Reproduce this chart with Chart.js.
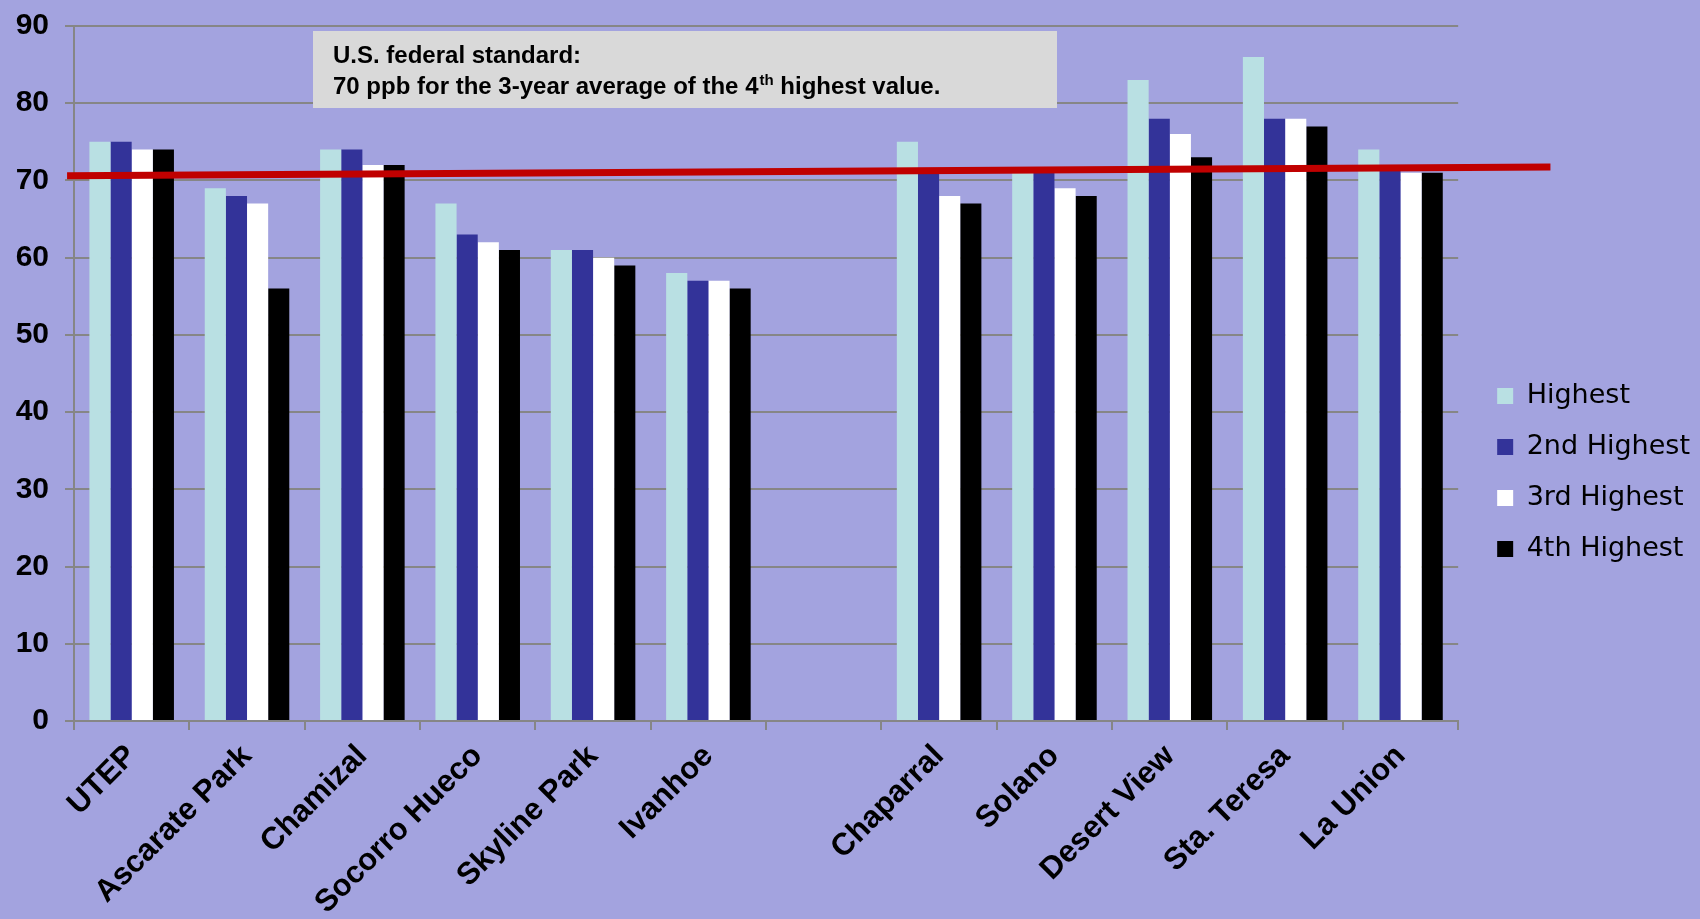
<!DOCTYPE html>
<html>
<head>
<meta charset="utf-8">
<script src="https://cdn.jsdelivr.net/npm/chart.js@4/dist/chart.umd.min.js"></script>
<style>
  html, body { margin: 0; padding: 0; background: #A3A3DF; }
  canvas { display: block; }
</style>
</head>
<body>
<canvas id="ozone" width="1700" height="919"></canvas>
<script>
// monitoring sites (blank slot separates the two groups)
var sites = ['UTEP', 'Ascarate Park', 'Chamizal', 'Socorro Hueco', 'Skyline Park', 'Ivanhoe', '',
             'Chaparral', 'Solano', 'Desert View', 'Sta. Teresa', 'La Union']
var highest  = [75, 69, 74, 67, 61, 58, null, 75, 71, 83, 86, 74]
var second   = [75, 68, 74, 63, 61, 57, null, 71, 71, 78, 78, 72]
var third    = [74, 67, 72, 62, 60, 57, null, 68, 69, 76, 78, 71]
var fourth   = [74, 56, 72, 61, 59, 56, null, 67, 68, 73, 77, 71]
var yTicks   = [0, 10, 20, 30, 40, 50, 60, 70, 80, 90]

// red standard line: ppb at its two ends, and where it starts/stops along the site axis
var standardLevel = [70.6, 71.75]
var standardSpan  = [-0.56, 12.3]

var noteLine1 = 'U.S. federal standard:'
var noteLine2a = '70 ppb for the 3-year average of the 4'
var noteSup = 'th'
var noteLine2b = ' highest value.'

var grey = '#868686'
var font = 'Liberation Sans, Arial, sans-serif'

var standardPlugin = {
    id: 'standard',
    afterDatasetsDraw: function (chart) {
        var ctx = chart.ctx
        var x = chart.scales.x, y = chart.scales.y

        // grey note box
        ctx.save()
        ctx.fillStyle = '#D9D9D9'
        ctx.fillRect(313, 31, 744, 77)
        ctx.fillStyle = '#000'
        ctx.textBaseline = 'alphabetic'
        ctx.font = 'bold 24px ' + font
        ctx.fillText(noteLine1, 333, 63)
        ctx.fillText(noteLine2a, 333, 94)
        var w = ctx.measureText(noteLine2a).width
        ctx.font = 'bold 15px ' + font
        ctx.fillText(noteSup, 333 + w + 1, 85)
        var w2 = ctx.measureText(noteSup).width
        ctx.font = 'bold 24px ' + font
        ctx.fillText(noteLine2b, 333 + w + w2 + 1, 94)

        // 70 ppb line
        ctx.strokeStyle = '#C00000'
        ctx.lineWidth = 7
        ctx.beginPath()
        ctx.moveTo(x.getPixelForValue(standardSpan[0]), y.getPixelForValue(standardLevel[0]))
        ctx.lineTo(x.getPixelForValue(standardSpan[1]), y.getPixelForValue(standardLevel[1]))
        ctx.stroke()
        ctx.restore()
    }
}

var myChart = new Chart(document.getElementById('ozone'), {
    type: 'bar',
    data: {
        labels: sites,
        datasets: [
            { label: 'Highest', data: highest, backgroundColor: '#B9E0E3' },
            { label: '2nd Highest', data: second, backgroundColor: '#333399' },
            { label: '3rd Highest', data: third, backgroundColor: '#FFFFFF' },
            { label: '4th Highest', data: fourth, backgroundColor: '#000000' }
        ]
    },
    options: {
        responsive: false,
        animation: false,
        layout: { padding: 0 },
        datasets: { bar: { categoryPercentage: 0.733, barPercentage: 1.0, borderWidth: 0 } },
        plugins: {
            tooltip: { enabled: false },
            legend: {
                position: 'right',
                title: { display: true, text: ' ', font: { size: 10, lineHeight: 1 }, padding: 8 },
                labels: {
                    color: '#000',
                    font: { family: 'DejaVu Sans, sans-serif', size: 27 },
                    boxWidth: 16,
                    boxHeight: 16,
                    padding: 24
                }
            }
        },
        scales: {
            x: {
                grid: { offset: true, drawOnChartArea: false, drawTicks: true, tickLength: 9, color: grey, lineWidth: 2 },
                border: { color: grey, width: 2 },
                ticks: {
                    color: '#000',
                    font: { family: font, size: 31, weight: 'bold' },
                    minRotation: 45,
                    maxRotation: 45,
                    autoSkip: false,
                    padding: 8
                },
                afterFit: function (s) { s.height = 198 }
            },
            y: {
                min: 0,
                max: 90,
                afterBuildTicks: function (s) { s.ticks = yTicks.map(function (v) { return { value: v } }) },
                grid: { color: grey, lineWidth: 2, tickLength: 9 },
                border: { color: grey, width: 2 },
                ticks: {
                    color: '#000',
                    font: { family: font, size: 30, weight: 'bold' },
                    padding: 16
                },
                afterFit: function (s) { s.width = 74; s.paddingTop = 26 }
            },
            gap: {
                position: 'right',
                display: true,
                grid: { display: false },
                border: { display: false },
                ticks: { display: false },
                afterFit: function (s) { s.width = 15 }
            }
        }
    },
    plugins: [standardPlugin]
});
</script>
</body>
</html>
